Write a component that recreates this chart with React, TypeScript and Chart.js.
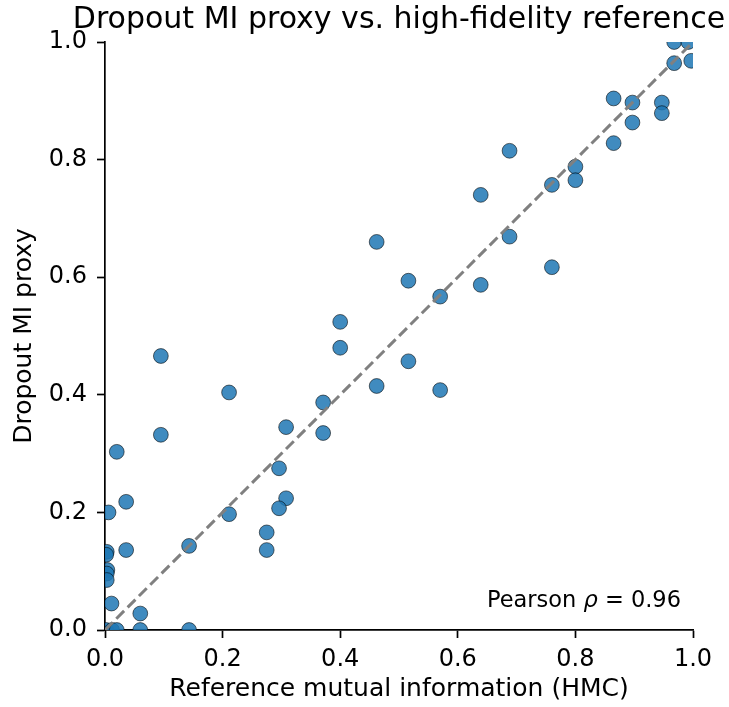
import { useEffect, useRef } from "react";
import { Chart, registerables } from "chart.js";

Chart.register(...registerables);

// Reference mutual information (HMC), x values
const referenceMI = [
  0.968, 0.992, 0.968, 0.997, 0.865, 0.897, 0.947, 0.947, 0.897, 0.865,
  0.688, 0.8, 0.8, 0.76, 0.639, 0.688, 0.76, 0.639, 0.462, 0.516,
  0.57, 0.4, 0.4, 0.516, 0.462, 0.57, 0.371, 0.371, 0.308, 0.296,
  0.308, 0.296, 0.275, 0.275, 0.211, 0.211, 0.143, 0.143, 0.095, 0.095,
  0.02, 0.036, 0.036, 0.006, 0.003, 0.002, 0.004, 0.003, 0.003, 0.011,
  0.06, 0.06, 0.002, 0.012, 0.02,
];

// Dropout MI proxy, y values
const proxyMI = [
  1.0, 1.0, 0.964, 0.968, 0.904, 0.897, 0.897, 0.879, 0.863, 0.828,
  0.815, 0.788, 0.765, 0.757, 0.74, 0.669, 0.617, 0.587, 0.66, 0.594,
  0.567, 0.524, 0.48, 0.457, 0.415, 0.408, 0.387, 0.335, 0.345, 0.275,
  0.224, 0.207, 0.166, 0.136, 0.404, 0.197, 0.143, 0.0, 0.466, 0.332,
  0.303, 0.218, 0.136, 0.2, 0.133, 0.128, 0.102, 0.096, 0.085, 0.045,
  0.028, 0.0, 0.0, 0.0, 0.0,
];

const tickValues = [0, 0.2, 0.4, 0.6, 0.8, 1.0];
const identityX = [0, 1];
const identityY = [0, 1];
const pearsonValue = "0.96";

const titleText = "Dropout MI proxy vs. high-fidelity reference";
const xTitle = "Reference mutual information (HMC)";
const yTitle = "Dropout MI proxy";

const FONT = "'DejaVu Sans', 'Liberation Sans', sans-serif";

const titlePlugin = {
  id: "centeredTitle",
  afterDraw(chart: any) {
    const { ctx, chartArea } = chart;
    ctx.save();
    ctx.font = `30px ${FONT}`;
    ctx.fillStyle = "#000";
    ctx.textAlign = "center";
    ctx.textBaseline = "alphabetic";
    ctx.fillText(titleText, (chartArea.left + chartArea.right) / 2, chartArea.top - 14);
    ctx.restore();
  },
};

const pearsonPlugin = {
  id: "pearsonText",
  afterDatasetsDraw(chart: any) {
    const { ctx, chartArea } = chart;
    ctx.save();
    const normal = `22.5px ${FONT}`;
    const ital = `italic 22.5px ${FONT}`;
    const parts: [string, string][] = [
      ["Pearson ", normal],
      ["\u03C1", ital],
      [" = " + pearsonValue, normal],
    ];
    let total = 0;
    const widths = parts.map(([t, f]) => {
      ctx.font = f;
      const w = ctx.measureText(t).width;
      total += w;
      return w;
    });
    let x = chartArea.right - 12 - total;
    const y = chartArea.bottom - 23;
    ctx.fillStyle = "#000";
    ctx.textBaseline = "alphabetic";
    ctx.textAlign = "left";
    parts.forEach(([t, f], i) => {
      ctx.font = f;
      ctx.fillText(t, x, y);
      x += widths[i];
    });
    ctx.restore();
  },
};

export default function App() {
  const canvasRef = useRef<HTMLCanvasElement | null>(null);

  useEffect(() => {
    document.body.style.margin = "0";
    const canvas = canvasRef.current;
    if (!canvas) return;

    const points = referenceMI.map((x, i) => ({ x, y: proxyMI[i] }));
    const diag = identityX.map((x, i) => ({ x, y: identityY[i] }));

    const tickSetter = (scale: any) => {
      scale.ticks = tickValues.map((v) => ({ value: v }));
    };

    const chart = new Chart(canvas, {
      type: "scatter",
      data: {
        datasets: [
          {
            type: "scatter",
            data: diag,
            showLine: true,
            borderColor: "#808080",
            borderWidth: 3,
            borderDash: [11, 5],
            pointRadius: 0,
            pointHoverRadius: 0,
            fill: false,
            order: 0,
            clip: 0,
          } as any,
          {
            type: "scatter",
            data: points,
            backgroundColor: "rgba(31,119,180,0.85)",
            borderColor: "rgba(0,0,0,0.7)",
            borderWidth: 0.8,
            pointRadius: 7.4,
            pointHoverRadius: 7.4,
            order: 1,
            clip: 0,
          } as any,
        ],
      },
      options: {
        responsive: false,
        animation: false,
        devicePixelRatio: 1,
        layout: { padding: { top: 42, left: 0, right: 36, bottom: 0 } },
        plugins: {
          legend: { display: false },
          tooltip: { enabled: false },
          title: { display: false },
        },
        scales: {
          x: {
            type: "linear",
            position: "bottom",
            min: 0,
            max: 1,
            afterBuildTicks: tickSetter,
            afterFit: (s: any) => {
              s.height = 77;
            },
            ticks: {
              color: "#000",
              font: { family: FONT, size: 24 },
              padding: 7,
              maxRotation: 0,
              callback: (v: any) => Number(v).toFixed(1),
            },
            grid: {
              drawOnChartArea: false,
              drawTicks: true,
              tickLength: 8,
              tickColor: "#000",
              tickWidth: 1.7,
            },
            border: { display: true, color: "#000", width: 1.7 },
            title: {
              display: true,
              text: xTitle,
              color: "#000",
              font: { family: FONT, size: 25 },
              padding: { top: 0, bottom: 3 },
            },
          },
          y: {
            type: "linear",
            position: "left",
            min: 0,
            max: 1,
            afterBuildTicks: tickSetter,
            afterFit: (s: any) => {
              s.width = 105;
            },
            ticks: {
              color: "#000",
              font: { family: FONT, size: 24 },
              padding: 10,
              callback: (v: any) => Number(v).toFixed(1),
            },
            grid: {
              drawOnChartArea: false,
              drawTicks: true,
              tickLength: 8,
              tickColor: "#000",
              tickWidth: 1.7,
            },
            border: { display: true, color: "#000", width: 1.7 },
            title: {
              display: true,
              text: yTitle,
              color: "#000",
              font: { family: FONT, size: 25 },
              padding: { top: 9, bottom: 0 },
            },
          },
        },
      } as any,
      plugins: [titlePlugin, pearsonPlugin],
    });

    return () => {
      chart.destroy();
    };
  }, []);

  return (
    <div style={{ width: 729, height: 707, position: "relative" }}>
      <canvas ref={canvasRef} width={729} height={707} style={{ display: "block" }} />
    </div>
  );
}
